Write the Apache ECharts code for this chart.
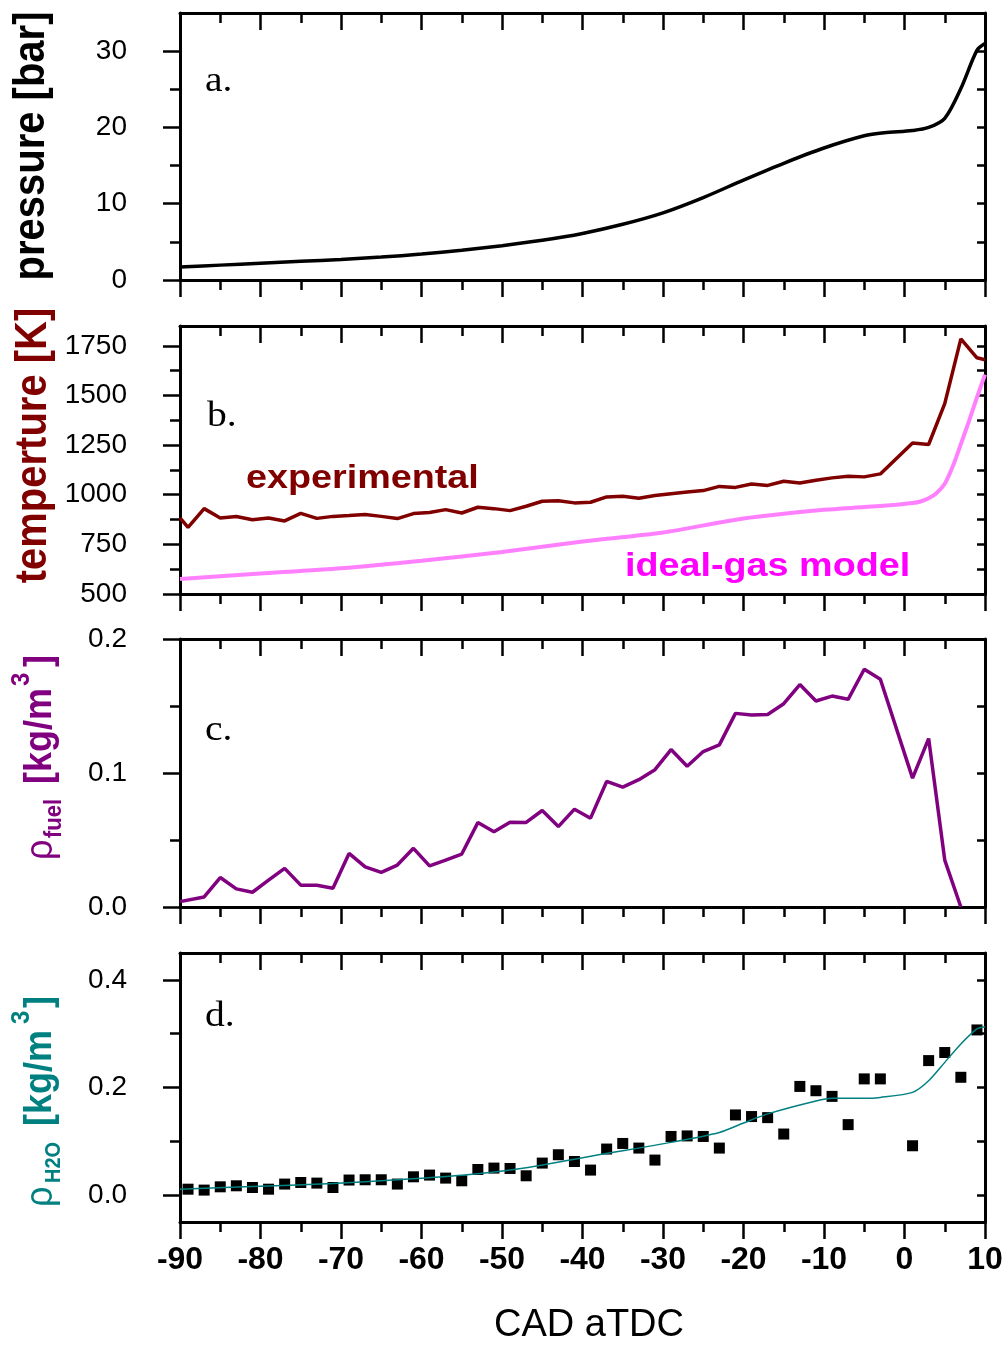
<!DOCTYPE html>
<html>
<head>
<meta charset="utf-8">
<script src="https://cdn.jsdelivr.net/npm/echarts@6.0.0/dist/echarts.min.js"></script>
<style>
  html, body { margin: 0; padding: 0; background: #ffffff; }
  #chart { width: 1007px; height: 1345px; }
</style>
</head>
<body>
<div id="chart"></div>
<script>
// ---- crank-angle axis ----
const cadMin = -90;
const cadMax = 10;
const cadStep = 10;

// ---- a. cylinder pressure [bar] ----
const presCad = [-90, -85, -80, -75, -70, -65, -60, -55, -50, -45, -40, -35, -30, -25, -20, -15, -10, -5, -2.5, 1, 3, 5, 7, 9, 10];
const presBar = [1.7, 1.95, 2.2, 2.45, 2.7, 3.0, 3.4, 3.9, 4.5, 5.2, 6.1, 7.3, 8.8, 10.8, 13.1, 15.3, 17.3, 18.9, 19.3, 19.6, 20.0, 21.2, 25.1, 30.1, 31.0];
const presTicks = [0, 10, 20, 30];
const presMinorTicks = [5, 15, 25];

// ---- b. temperature [K] ----
const tempCad = [-90, -89, -87, -85, -83, -81, -79, -77, -75, -73, -71, -69, -67, -65, -63, -61, -59, -57, -55, -53, -51, -49, -47, -45, -43, -41, -39, -37, -35, -33, -31, -29, -27, -25, -23, -21, -19, -17, -15, -13, -11, -9, -7, -5, -3, 1, 3, 5, 7, 9, 10];
const tempExp = [883, 836, 930, 883, 890, 874, 883, 868, 906, 881, 891, 895, 900, 891, 880, 905, 911, 925, 908, 937, 930, 920, 942, 967, 970, 959, 962, 989, 992, 982, 996, 1005, 1014, 1021, 1042, 1037, 1054, 1047, 1068, 1059, 1073, 1085, 1093, 1090, 1105, 1261, 1253, 1459, 1785, 1690, 1680];
const idealCad = [-90, -80, -70, -60, -50, -40, -30, -20, -10, -5, -1, 1, 2, 3, 4, 5, 6, 7, 8, 9, 10];
const idealT = [576, 603, 630, 668, 712, 764, 810, 880, 924, 938, 950, 958, 966, 982, 1009, 1055, 1143, 1255, 1370, 1490, 1605];
const tempTicks = [500, 750, 1000, 1250, 1500, 1750];
const tempMinorTicks = [625, 875, 1125, 1375, 1625];

// ---- c. fuel density [kg/m3] ----
const fuelCad = [-90, -87, -85, -83, -81, -79, -77, -75, -73, -71, -69, -67, -65, -63, -61, -59, -57, -55, -53, -51, -49, -47, -45, -43, -41, -39, -37, -35, -33, -31, -29, -27, -25, -23, -21, -19, -17, -15, -13, -11, -9, -7, -5, -3, 1, 3, 5, 7];
const fuelRho = [0.004, 0.0075, 0.022, 0.0135, 0.011, 0.020, 0.0288, 0.0163, 0.0163, 0.0140, 0.040, 0.030, 0.0258, 0.0313, 0.0438, 0.0307, 0.035, 0.0395, 0.063, 0.0562, 0.0633, 0.0631, 0.072, 0.060, 0.073, 0.0663, 0.0937, 0.0895, 0.095, 0.1025, 0.1175, 0.105, 0.116, 0.121, 0.1445, 0.1432, 0.1437, 0.1517, 0.166, 0.1537, 0.1574, 0.155, 0.1774, 0.170, 0.0962, 0.1257, 0.035, 0.0];
const fuelTicks = [0, 0.1, 0.2];
const fuelMinorTicks = [0.05, 0.15];

// ---- d. water density [kg/m3] ----
const waterCad = [-89, -87, -85, -83, -81, -79, -77, -75, -73, -71, -69, -67, -65, -63, -61, -59, -57, -55, -53, -51, -49, -47, -45, -43, -41, -39, -37, -35, -33, -31, -29, -27, -25, -23, -21, -19, -17, -15, -13, -11, -9, -7, -5, -3, 1, 3, 5, 7, 9];
const waterMeas = [0.011, 0.0093, 0.0154, 0.0173, 0.0141, 0.011, 0.0205, 0.0234, 0.0223, 0.0141, 0.028, 0.0285, 0.0285, 0.0205, 0.034, 0.0372, 0.0316, 0.0266, 0.0476, 0.0502, 0.0495, 0.0359, 0.0595, 0.075, 0.0625, 0.0465, 0.0856, 0.096, 0.0874, 0.0651, 0.109, 0.110, 0.109, 0.0874, 0.149, 0.146, 0.144, 0.1135, 0.202, 0.194, 0.1835, 0.131, 0.216, 0.216, 0.0917, 0.250, 0.265, 0.219, 0.307];
const waterModelCad = [-90, -80, -71, -63, -55, -47, -38, -29, -23, -20, -17, -11, -9, -5, -3, 1, 3, 5, 7, 9, 10];
const waterModel = [0.011, 0.0165, 0.0216, 0.0285, 0.037, 0.051, 0.075, 0.098, 0.1165, 0.134, 0.151, 0.175, 0.180, 0.180, 0.1816, 0.191, 0.2126, 0.2467, 0.281, 0.309, 0.313];
const waterTicks = [0, 0.2, 0.4];
const waterMinorTicks = [0.1, 0.3];

// ---- styling ----
const SANS = '"Liberation Sans", Arial, Helvetica, sans-serif';
const SERIF = '"Liberation Serif", "Times New Roman", serif';
const BLACK = '#000000';
const AXIS_W = 3;
const TICK_W = 2.5;
const MAJOR_LEN = 17;
const MINOR_LEN = 10;
const RIGHT_LEN = 8;

const zip = (xs, ys) => xs.map((x, i) => [x, ys[i]]);
const sortNum = arr => arr.slice().sort((a, b) => a - b);

// stacked panels sharing the crank-angle axis
const panels = [
  { top: 13,  height: 267, min: 0,     max: 35,   major: presTicks,  minor: presMinorTicks,  fmt: v => String(v) },
  { top: 326, height: 268, min: 500,   max: 1850, major: tempTicks,  minor: tempMinorTicks,  fmt: v => String(v) },
  { top: 639, height: 268, min: 0,     max: 0.2,  major: fuelTicks,  minor: fuelMinorTicks,  fmt: v => v.toFixed(1) },
  { top: 953, height: 269, min: -0.05, max: 0.45, major: waterTicks, minor: waterMinorTicks, fmt: v => v.toFixed(1) }
];

const lineStyle = w => ({ color: BLACK, width: w });

const grids = [];
const xAxes = [];
const yAxes = [];

// main grids 0..3
panels.forEach(p => {
  grids.push({ left: 180, right: 22, top: p.top, height: p.height, outerBoundsMode: 'none', containLabel: false });
});
// overlay grids 4..7 carry the short left-side ticks
panels.forEach(p => {
  grids.push({ left: 180, right: 22, top: p.top, height: p.height, outerBoundsMode: 'none', containLabel: false });
});

// bottom crank-angle axes (0..3)
panels.forEach((p, g) => {
  const last = g === panels.length - 1;
  xAxes.push({
    type: 'value', gridIndex: g, position: 'bottom',
    min: cadMin, max: cadMax, interval: cadStep,
    axisLine: { show: true, onZero: false, lineStyle: lineStyle(AXIS_W) },
    axisTick: { show: true, inside: false, length: MAJOR_LEN, lineStyle: lineStyle(TICK_W) },
    minorTick: { show: true, splitNumber: 2, length: MINOR_LEN, lineStyle: lineStyle(TICK_W) },
    axisLabel: { show: last, margin: 22, color: BLACK, fontFamily: SANS, fontSize: 32, fontWeight: 'bold' },
    splitLine: { show: false }, minorSplitLine: { show: false },
    name: last ? 'CAD aTDC' : '',
    nameLocation: 'middle', nameGap: 85,
    nameTextStyle: { color: BLACK, fontFamily: SANS, fontSize: 38, padding: [0, 0, 0, 13] }
  });
});
// top crank-angle axes (4..7)
panels.forEach((p, g) => {
  xAxes.push({
    type: 'value', gridIndex: g, position: 'top',
    min: cadMin, max: cadMax, interval: cadStep,
    axisLine: { show: true, onZero: false, lineStyle: lineStyle(AXIS_W) },
    axisTick: { show: true, inside: true, length: MAJOR_LEN, lineStyle: lineStyle(TICK_W) },
    minorTick: { show: true, splitNumber: 2, length: MINOR_LEN, lineStyle: lineStyle(TICK_W) },
    axisLabel: { show: false },
    splitLine: { show: false }, minorSplitLine: { show: false }
  });
});
// hidden x axes for overlay grids (8..11)
panels.forEach((p, g) => {
  xAxes.push({ type: 'value', gridIndex: g + 4, min: cadMin, max: cadMax, show: false });
});

// left value axes with labels (0..3)
panels.forEach((p, g) => {
  yAxes.push({
    type: 'value', gridIndex: g, position: 'left', min: p.min, max: p.max,
    axisLine: { show: true, onZero: false, lineStyle: lineStyle(AXIS_W) },
    axisTick: { show: true, inside: false, length: MAJOR_LEN, customValues: p.major, lineStyle: lineStyle(TICK_W) },
    axisLabel: { show: true, customValues: p.major, formatter: p.fmt, margin: 53, color: BLACK, fontFamily: SANS, fontSize: 28 },
    splitLine: { show: false }
  });
});
// right value axes, inward ticks (4..7)
panels.forEach((p, g) => {
  yAxes.push({
    type: 'value', gridIndex: g, position: 'right', min: p.min, max: p.max,
    axisLine: { show: true, onZero: false, lineStyle: lineStyle(AXIS_W) },
    axisTick: { show: true, inside: true, length: RIGHT_LEN, customValues: sortNum(p.major.concat(p.minor)), lineStyle: lineStyle(TICK_W) },
    axisLabel: { show: false },
    splitLine: { show: false }
  });
});
// left minor ticks on overlay grids (8..11)
panels.forEach((p, g) => {
  yAxes.push({
    type: 'value', gridIndex: g + 4, position: 'left', min: p.min, max: p.max,
    axisLine: { show: false, onZero: false },
    axisTick: { show: true, inside: false, length: MINOR_LEN, customValues: p.minor, lineStyle: lineStyle(TICK_W) },
    axisLabel: { show: false },
    splitLine: { show: false }
  });
});

// rotated text helper (reads bottom to top)
function vText(text, x, y, font, fill, align) {
  return {
    type: 'text', x: x, y: y, rotation: Math.PI / 2, scaleY: 1.1, silent: true,
    style: { text: text, font: font, fill: fill,
             align: align || 'left', verticalAlign: 'middle',
             textAlign: align || 'left', textVerticalAlign: 'middle' }
  };
}
function hText(text, x, y, font, fill, sx) {
  return {
    type: 'text', x: x, y: y, scaleX: sx, silent: true,
    style: { text: text, font: font, fill: fill,
             align: 'left', verticalAlign: 'middle',
             textAlign: 'left', textVerticalAlign: 'middle' }
  };
}

const PURPLE = '#800080';
const TEAL = '#008080';
const MAROON = '#800000';

const graphics = [
  // axis titles
  vText('pressure [bar]', 32, 146, 'bold 40px ' + SANS, BLACK, 'center'),
  vText('temperture [K]', 33.5, 445.5, 'bold 40px ' + SANS, MAROON, 'center'),
  vText('\u03c1', 41, 860, '36px ' + SANS, PURPLE),
  vText('fuel', 54, 838, 'bold 22px ' + SANS, PURPLE),
  vText('[kg/m', 40.5, 784, 'bold 36px ' + SANS, PURPLE),
  vText('3', 21.3, 686, 'bold 24px ' + SANS, PURPLE),
  vText(']', 40.5, 667, 'bold 36px ' + SANS, PURPLE),
  vText('\u03c1', 41, 1207, '36px ' + SANS, TEAL),
  vText('H2O', 54, 1183, 'bold 20px ' + SANS, TEAL),
  vText('[kg/m', 40.5, 1126, 'bold 36px ' + SANS, TEAL),
  vText('3', 21.3, 1024, 'bold 24px ' + SANS, TEAL),
  vText(']', 40.5, 1008, 'bold 36px ' + SANS, TEAL),
  // panel letters
  hText('a.', 205, 81.5, '35px ' + SERIF, BLACK, 1.13),
  hText('b.', 207, 416.5, '35px ' + SERIF, BLACK, 1.13),
  hText('c.', 205, 730.5, '35px ' + SERIF, BLACK, 1.13),
  hText('d.', 205, 1016.5, '35px ' + SERIF, BLACK, 1.13),
  // curve annotations
  hText('experimental', 246, 479, 'bold 34px ' + SANS, MAROON, 1.11),
  hText('ideal-gas model', 625, 567, 'bold 34px ' + SANS, '#FF00FF', 1.11)
];

const series = [
  { type: 'line', name: 'pressure', xAxisIndex: 0, yAxisIndex: 0,
    data: zip(presCad, presBar), symbol: 'none', smooth: 0.3,
    lineStyle: { color: BLACK, width: 3.5 }, itemStyle: { color: BLACK } },
  { type: 'line', name: 'ideal-gas model', xAxisIndex: 1, yAxisIndex: 1,
    data: zip(idealCad, idealT), symbol: 'none', smooth: 0.25,
    lineStyle: { color: '#FF80FF', width: 4 }, itemStyle: { color: '#FF80FF' } },
  { type: 'line', name: 'experimental', xAxisIndex: 1, yAxisIndex: 1,
    data: zip(tempCad, tempExp), symbol: 'none',
    lineStyle: { color: MAROON, width: 3.5 }, itemStyle: { color: MAROON } },
  { type: 'line', name: 'fuel', xAxisIndex: 2, yAxisIndex: 2,
    data: zip(fuelCad, fuelRho), symbol: 'none',
    lineStyle: { color: PURPLE, width: 3.5 }, itemStyle: { color: PURPLE } },
  { type: 'scatter', name: 'H2O measured', xAxisIndex: 3, yAxisIndex: 3,
    data: zip(waterCad, waterMeas), symbol: 'rect', symbolSize: 11,
    itemStyle: { color: BLACK, opacity: 1 } },
  { type: 'line', name: 'H2O model', xAxisIndex: 3, yAxisIndex: 3, z: 3,
    data: zip(waterModelCad, waterModel), symbol: 'none', smooth: 0.25,
    lineStyle: { color: TEAL, width: 1.5 }, itemStyle: { color: TEAL } }
];

const chart = echarts.init(document.getElementById('chart'), null, { renderer: 'canvas' });
chart.setOption({
  backgroundColor: '#ffffff',
  animation: false,
  grid: grids,
  xAxis: xAxes,
  yAxis: yAxes,
  graphic: { elements: graphics },
  series: series
});
</script>
</body>
</html>
